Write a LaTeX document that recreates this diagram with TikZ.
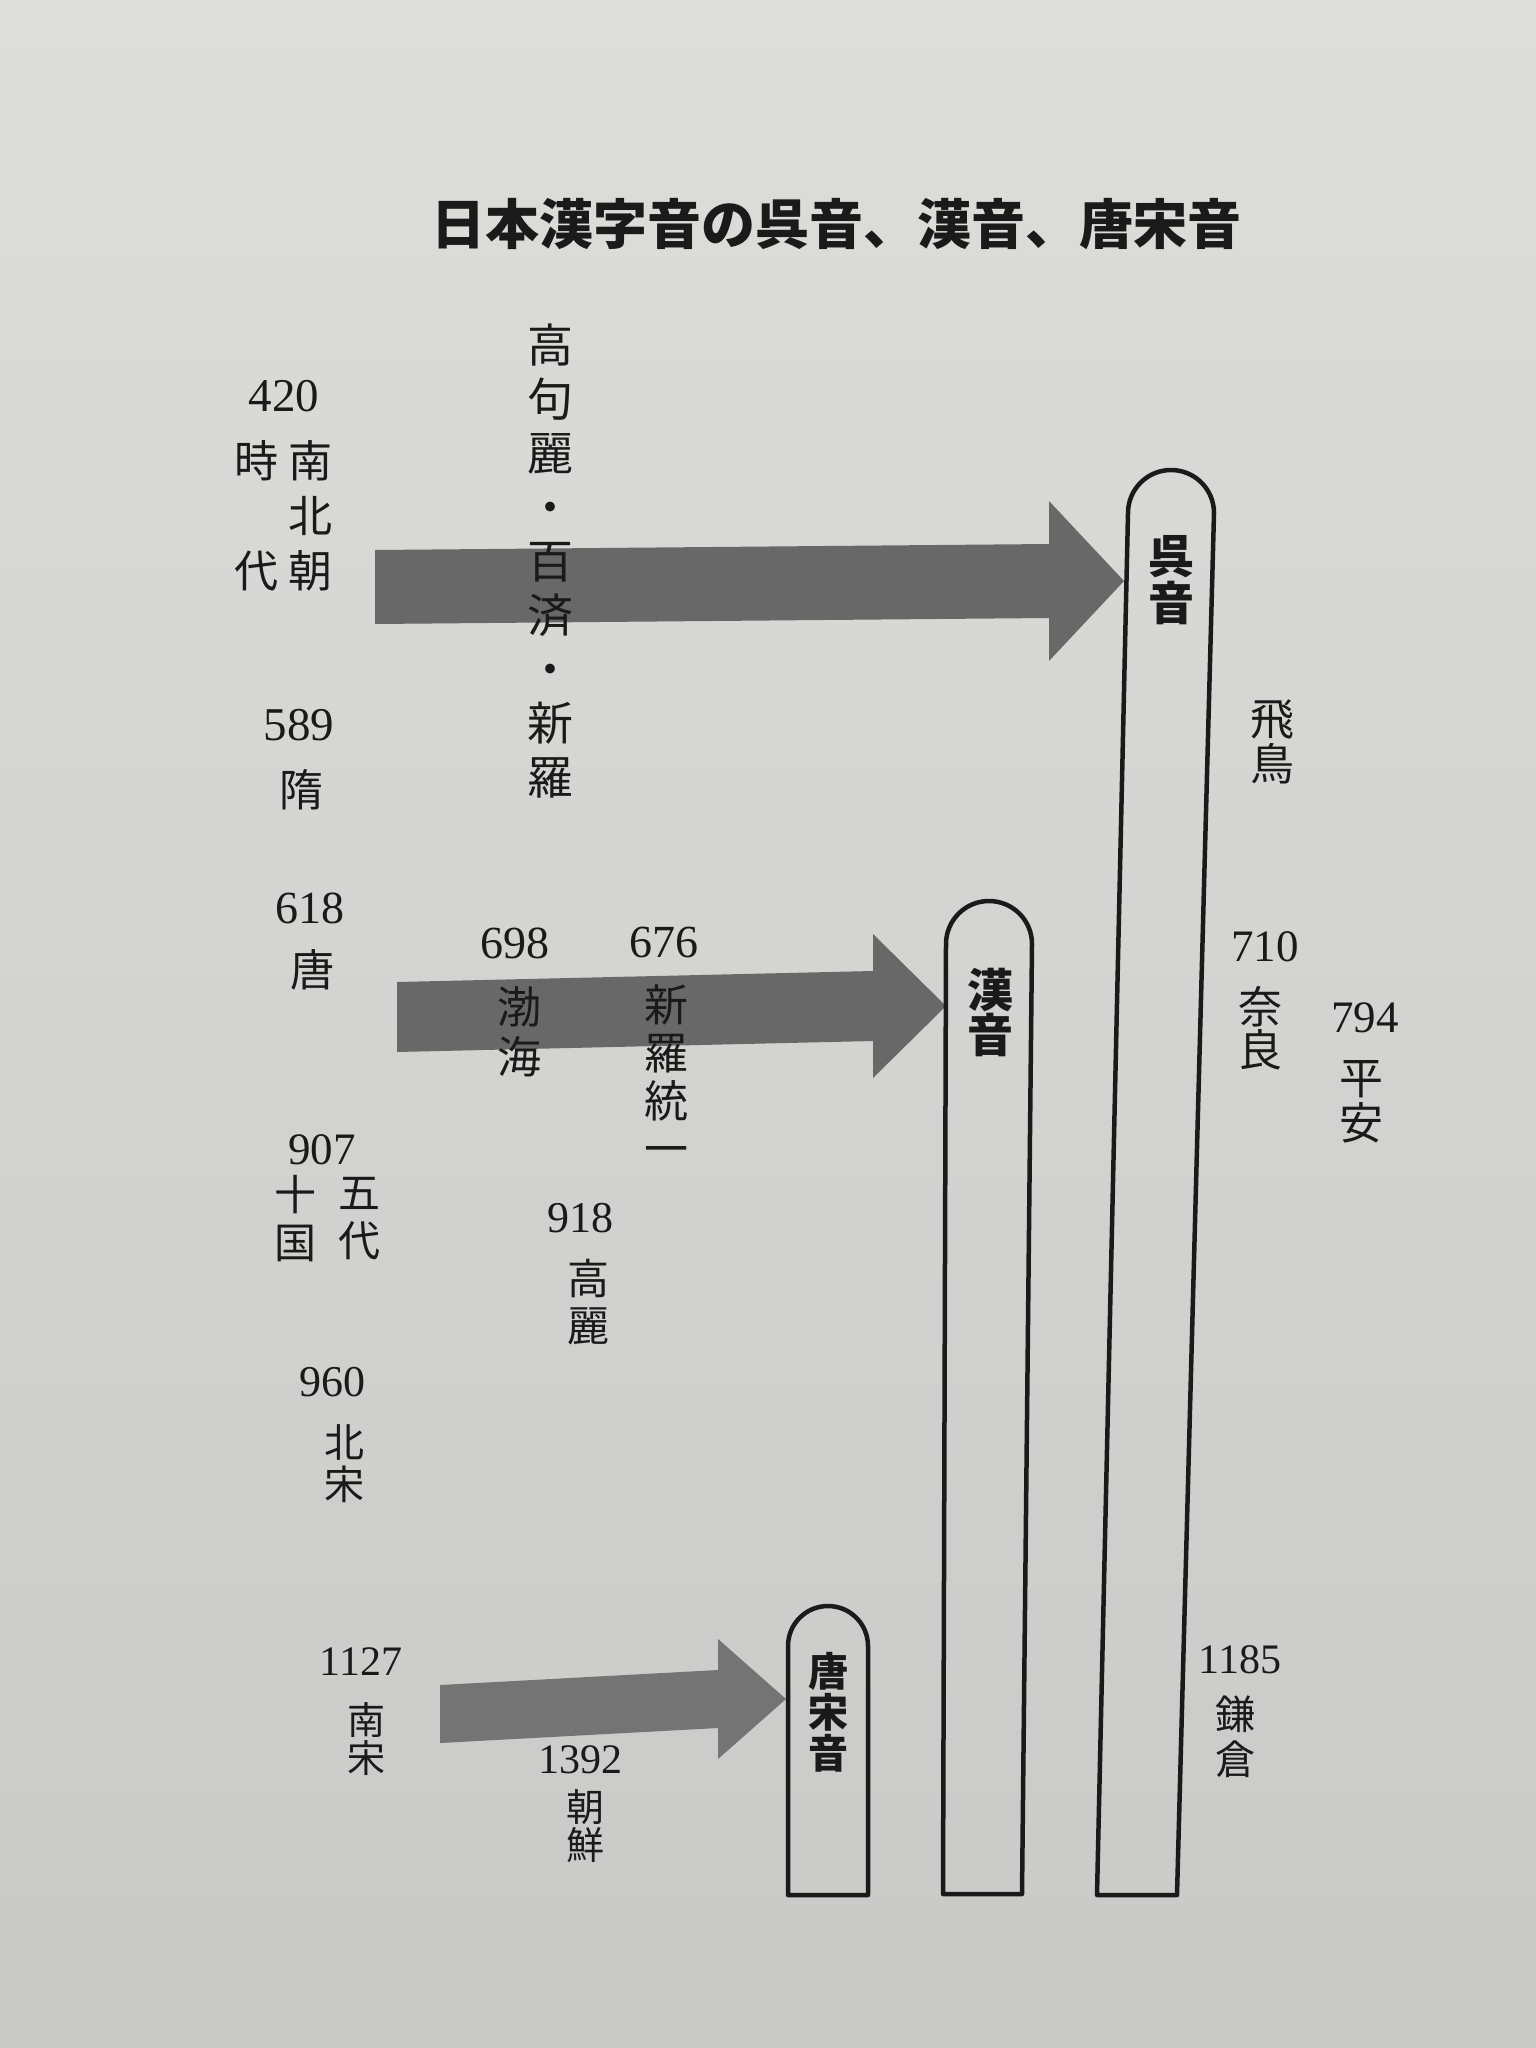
\documentclass[tikz,border=0pt]{standalone}
\usepackage{fontspec}
\setmainfont{Liberation Serif}
\newfontfamily\cjk{Noto Sans CJK JP}
\usetikzlibrary{positioning, calc}

\definecolor{papertop}{RGB}{221,221,218}
\definecolor{paperbottom}{RGB}{201,201,199}
\definecolor{ink}{RGB}{26,26,26}
\definecolor{hatchgray}{RGB}{104,104,104}
\definecolor{solidgray}{RGB}{116,116,116}

\tikzstyle{bar} = [draw=ink, line width=4.5pt, line join=round]
\tikzset{
  yr/.style={inner sep=0pt, text=ink, font=\fontsize{#1}{#1}\selectfont},
  yr/.default=45,
  era/.style n args={2}{inner sep=0pt, text=ink, align=center,
    font=\cjk\fontsize{#1}{#2}\selectfont},
  barlabel/.style n args={2}{inner sep=0pt, text=ink, align=center,
    font=\cjk\bfseries\fontsize{#1}{#2}\selectfont},
  title/.style={inner sep=0pt, text=ink, font=\cjk\bfseries\fontsize{54}{54}\selectfont}
}

% fat arrow: from, to, shaft half width, head half width, head length, colour
\newcommand{\fatarrow}[6]{%
  \fill[#6] ($(#1)+(0,-#3)$) -- ($(#2)+(-#5,-#3)$) -- ($(#2)+(-#5,-#4)$) -- (#2)
    -- ($(#2)+(-#5,#4)$) -- ($(#2)+(-#5,#3)$) -- ($(#1)+(0,#3)$) -- cycle;}

\begin{document}
\begin{tikzpicture}[x=1pt, y=-1pt]
    \useasboundingbox (0,0) rectangle (1536,2048);
    \shade[top color=papertop, bottom color=paperbottom] (0,0) rectangle (1536,2048);

    % arrows go under the labels
    \coordinate (go-from) at (375,587);
    \coordinate (go-in) at (1124,581);
    \coordinate (kan-from) at (397,1017);
    \coordinate (kan-in) at (946,1006);
    \coordinate (toso-from) at (440,1714);
    \coordinate (toso-in) at (786,1699);
    \fatarrow{go-from}{go-in}{37}{80}{75}{hatchgray}
    \fatarrow{kan-from}{kan-in}{35}{72}{73}{hatchgray}
    \fatarrow{toso-from}{toso-in}{29}{60}{68}{solidgray}

    \node[title] (title) at (836,224) {日本漢字音の呉音、漢音、唐宋音};

    % China
    \node[yr=47] (y420) at (284,396) {420};
    \node[era={44}{55}] (nanboku) at (310,516) {南\\北\\朝};
    \node[era={44}{55}] (jidai) at (256,516) {時\\[55pt]代};
    \node[yr=47] (y589) at (299,725) {589};
    \node[era={44}{44}] (sui) at (301,790) {隋};
    \node[yr=46] (y618) at (310,908) {618};
    \node[era={44}{44}] (tang) at (312,970) {唐};
    \node[yr=45] (y907) at (322,1150) {907};
    \node[era={42}{48}] (godai) at (359,1219) {五\\代};
    \node[era={42}{48}] (jikkoku) at (295,1219) {十\\国};
    \node[yr=44] (y960) at (332,1382) {960};
    \node[era={40}{42}] (hokuso) at (344,1464) {北\\宋};
    \node[yr=42] (y1127) at (361,1662) {1127};
    \node[era={38}{38}] (nanso) at (366,1739) {南\\宋};

    % Korea
    \node[era={46}{54}] (sankoku) at (550,561) {高\\句\\麗\\・\\百\\済\\・\\新\\羅};
    \node[yr=46] (y698) at (515,943) {698};
    \node[era={44}{50}] (bokkai) at (519,1032) {渤\\海};
    \node[yr=46] (y676) at (664,942) {676};
    \node[era={44}{48}] (shiragi) at (666,1075) {新\\羅\\統\\一};
    \node[yr=44] (y918) at (580,1218) {918};
    \node[era={42}{47}] (korai) at (588,1302) {高\\麗};
    \node[yr=42] (y1392) at (580,1760) {1392};
    \node[era={38}{38}] (chosen) at (585,1826) {朝\\鮮};

    % Japan
    \node[era={44}{45}] (asuka) at (1272,742) {飛\\鳥};
    \node[yr=45] (y710) at (1265,947) {710};
    \node[era={44}{43}] (nara) at (1260,1028) {奈\\良};
    \node[yr=45] (y794) at (1365,1018) {794};
    \node[era={44}{45}] (heian) at (1361,1102) {平\\安};
    \node[yr=42] (y1185) at (1240,1660) {1185};
    \node[era={40}{45}] (kamakura) at (1235,1737) {鎌\\倉};

    % readings
    \draw[bar] (1097,1895) -- (1128,513) arc[start angle=180, end angle=0, radius=43pt] -- (1177,1895) -- cycle;
    \draw[bar] (943,1894) -- (946,944) arc[start angle=180, end angle=0, radius=43pt] -- (1022,1894) -- cycle;
    \draw[bar] (788,1895) -- (788,1646) arc[start angle=180, end angle=0, radius=40pt] -- (868,1646) -- (868,1895) -- cycle;
    \node[barlabel={46}{47}] (goon) at (1171,580) {呉\\音};
    \node[barlabel={46}{45}] (kanon) at (990,1012) {漢\\音};
    \node[barlabel={40}{41}] (tosoon) at (828,1712) {唐\\宋\\音};
\end{tikzpicture}
\end{document}
